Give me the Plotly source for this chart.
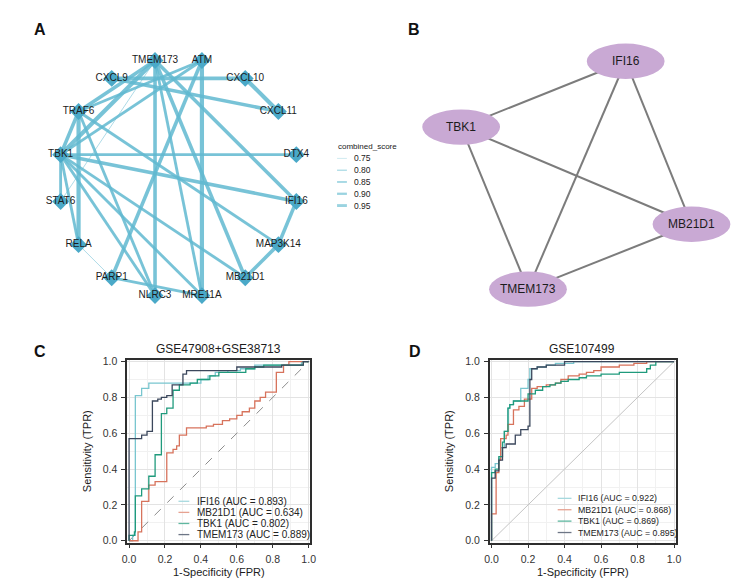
import math
import plotly.graph_objects as go

# the page body adds an 8px margin, so the figure is drawn 8px smaller and offset
OFF = 8
W, H = 748 - 2 * OFF, 586 - 2 * OFF
FONT = "Liberation Sans, Arial, sans-serif"


def fx(p):
    return (p - OFF) / W


def fy(p):
    return 1 - (p - OFF) / H


# ---------------- data: panel A (PPI network, circular layout) ----------------
nodes_A = ["ATM", "CXCL10", "CXCL11", "DTX4", "IFI16", "MAP3K14", "MB21D1", "MRE11A",
           "NLRC3", "PARP1", "RELA", "STAT6", "TBK1", "TRAF6", "CXCL9", "TMEM173"]
edge_src = ["TMEM173", "TMEM173", "TMEM173", "TMEM173", "TMEM173", "TMEM173", "TMEM173",
            "ATM", "ATM", "ATM", "ATM", "CXCL9", "CXCL9", "CXCL10",
            "TBK1", "TBK1", "TBK1", "TBK1", "TBK1", "TBK1", "TBK1", "TBK1",
            "TRAF6", "TRAF6", "TRAF6", "RELA", "PARP1", "IFI16", "MAP3K14"]
edge_dst = ["TBK1", "TRAF6", "STAT6", "NLRC3", "MRE11A", "MB21D1", "IFI16",
            "TRAF6", "MRE11A", "PARP1", "TBK1", "CXCL10", "CXCL11", "CXCL11",
            "DTX4", "IFI16", "MB21D1", "MRE11A", "NLRC3", "STAT6", "RELA", "TRAF6",
            "RELA", "MAP3K14", "NLRC3", "PARP1", "MRE11A", "MAP3K14", "MB21D1"]
edge_score = [0.99, 0.95, 0.75, 0.95, 0.90, 0.95, 0.95,
              0.90, 0.99, 0.95, 0.90, 0.95, 0.95, 0.99,
              0.90, 0.95, 0.90, 0.90, 0.90, 0.90, 0.90, 0.95,
              0.99, 0.90, 0.90, 0.75, 0.90, 0.95, 0.95]
score_levels = [0.75, 0.80, 0.85, 0.90, 0.95]

# ---------------- data: panel B (hub genes network) ----------------
nodes_B = ["IFI16", "TBK1", "MB21D1", "TMEM173"]
nodes_B_x = [0.661, 0.181, 0.853, 0.376]
nodes_B_y = [0.872, 0.641, 0.300, 0.072]
edges_B_src = ["IFI16", "IFI16", "IFI16", "TBK1", "TBK1", "MB21D1"]
edges_B_dst = ["TBK1", "MB21D1", "TMEM173", "MB21D1", "TMEM173", "TMEM173"]

# ---------------- data: ROC curves ----------------
roc_genes = ["IFI16", "MB21D1", "TBK1", "TMEM173"]
auc_C = [0.893, 0.634, 0.802, 0.889]
auc_D = [0.922, 0.868, 0.869, 0.895]

fpr_C_IFI16 = [0, 0.00, 0.02, 0.035, 0.07, 0.11, 0.40, 0.44, 0.48, 0.55, 0.62, 0.70, 0.96, 1.0]
tpr_C_IFI16 = [0, 0.00, 0.03, 0.81, 0.85, 0.88, 0.90, 0.92, 0.94, 0.95, 0.96, 0.98, 1.00, 1.0]
fpr_C_MB21D1 = [0, 0.05, 0.07, 0.11, 0.145, 0.21, 0.245, 0.265, 0.28, 0.32, 0.43, 0.47, 0.52,
                0.56, 0.60, 0.63, 0.67, 0.70, 0.73, 0.76, 0.82, 0.86, 0.89, 1.0]
tpr_C_MB21D1 = [0, 0.05, 0.22, 0.31, 0.33, 0.49, 0.51, 0.53, 0.59, 0.63, 0.64, 0.65, 0.67,
                0.68, 0.70, 0.72, 0.74, 0.78, 0.80, 0.83, 0.94, 0.98, 1.00, 1.0]
fpr_C_TBK1 = [0, 0.0, 0.03, 0.035, 0.07, 0.11, 0.145, 0.18, 0.21, 0.245, 0.28, 0.34, 0.38,
              0.45, 0.50, 0.65, 0.70, 0.75, 0.97, 1.0]
tpr_C_TBK1 = [0, 0.03, 0.05, 0.25, 0.29, 0.36, 0.48, 0.71, 0.74, 0.84, 0.87, 0.88, 0.90,
              0.92, 0.94, 0.96, 0.97, 0.98, 1.00, 1.0]
fpr_C_TMEM173 = [0, 0.0, 0.07, 0.10, 0.13, 0.16, 0.18, 0.21, 0.24, 0.30, 0.32, 0.60, 0.85, 0.97, 1.0]
tpr_C_TMEM173 = [0, 0.57, 0.59, 0.61, 0.78, 0.79, 0.80, 0.81, 0.87, 0.93, 0.95, 0.97, 0.98, 1.00, 1.0]

fpr_D_IFI16 = [0, 0.0, 0.02, 0.04, 0.05, 0.07, 0.09, 0.10, 0.12, 0.16, 0.20, 0.21, 0.25, 0.30, 0.35, 0.45, 1.0]
tpr_D_IFI16 = [0, 0.41, 0.43, 0.46, 0.52, 0.61, 0.74, 0.76, 0.78, 0.85, 0.90, 0.96, 0.97, 0.98, 0.99, 1.00, 1.0]
fpr_D_MB21D1 = [0, 0.0, 0.025, 0.04, 0.05, 0.08, 0.09, 0.12, 0.15, 0.18, 0.22, 0.25, 0.30, 0.35,
                0.38, 0.42, 0.48, 0.52, 0.56, 0.60, 0.70, 0.78, 0.85, 1.0]
tpr_D_MB21D1 = [0, 0.15, 0.38, 0.45, 0.57, 0.59, 0.65, 0.73, 0.75, 0.79, 0.85, 0.86, 0.87, 0.88,
                0.90, 0.92, 0.93, 0.94, 0.95, 0.97, 0.98, 0.99, 1.00, 1.0]
fpr_D_TBK1 = [0, 0.0, 0.02, 0.04, 0.06, 0.07, 0.09, 0.10, 0.12, 0.20, 0.24, 0.28, 0.32, 0.35,
              0.38, 0.42, 0.48, 0.52, 0.60, 0.70, 0.85, 0.87, 0.90, 1.0]
tpr_D_TBK1 = [0, 0.38, 0.40, 0.47, 0.55, 0.61, 0.74, 0.76, 0.78, 0.82, 0.84, 0.86, 0.87, 0.88,
              0.89, 0.90, 0.91, 0.92, 0.93, 0.94, 0.96, 0.98, 1.00, 1.0]
fpr_D_TMEM173 = [0, 0.0, 0.02, 0.04, 0.06, 0.08, 0.13, 0.16, 0.20, 0.21, 0.22, 0.25, 0.30, 0.40, 1.0]
tpr_D_TMEM173 = [0, 0.35, 0.39, 0.45, 0.52, 0.54, 0.59, 0.62, 0.64, 0.90, 0.96, 0.97, 0.98, 1.00, 1.0]

roc_C = {"IFI16": (fpr_C_IFI16, tpr_C_IFI16), "MB21D1": (fpr_C_MB21D1, tpr_C_MB21D1),
         "TBK1": (fpr_C_TBK1, tpr_C_TBK1), "TMEM173": (fpr_C_TMEM173, tpr_C_TMEM173)}
roc_D = {"IFI16": (fpr_D_IFI16, tpr_D_IFI16), "MB21D1": (fpr_D_MB21D1, tpr_D_MB21D1),
         "TBK1": (fpr_D_TBK1, tpr_D_TBK1), "TMEM173": (fpr_D_TMEM173, tpr_D_TMEM173)}

# ---------------- styles ----------------
roc_colors = {"IFI16": "#79c6cf", "MB21D1": "#d7735c", "TBK1": "#1f9a7c", "TMEM173": "#3b475c"}
legend_colors = {"IFI16": "#a6d9de", "MB21D1": "#e6a291", "TBK1": "#5fb7a0", "TMEM173": "#6d7686"}
EDGE_A = "rgba(96,184,208,0.85)"
NODE_A = "#4aa9c8"
NODE_B = "#c9a9d4"
EDGE_B = "#7c7c7c"


def edge_width(s):
    return 0.6 + (s - 0.75) / 0.20 * 3.0


fig = go.Figure()

# ---------------- panel A ----------------
n = len(nodes_A)
pos_A = {}
for i, name in enumerate(nodes_A):
    ang = math.radians(78.75 - i * 360.0 / n)
    pos_A[name] = (math.cos(ang), math.sin(ang))

for s in sorted(set(edge_score)):
    xs, ys = [], []
    for a, b, sc in zip(edge_src, edge_dst, edge_score):
        if sc == s:
            xs += [pos_A[a][0], pos_A[b][0], None]
            ys += [pos_A[a][1], pos_A[b][1], None]
    fig.add_trace(go.Scatter(x=xs, y=ys, mode="lines", xaxis="x", yaxis="y",
                             line=dict(color=EDGE_A, width=edge_width(s)),
                             hoverinfo="skip", showlegend=False))

fig.add_trace(go.Scatter(
    x=[pos_A[k][0] for k in nodes_A], y=[pos_A[k][1] for k in nodes_A],
    mode="markers+text", text=nodes_A, textposition="middle center",
    textfont=dict(family=FONT, size=10, color="#1c1c1c"),
    marker=dict(symbol="diamond", size=13, color=NODE_A, line=dict(width=0)),
    xaxis="x", yaxis="y", showlegend=False, hoverinfo="text"))

# ---------------- panel B ----------------
posB = {k: (x, y) for k, x, y in zip(nodes_B, nodes_B_x, nodes_B_y)}
xs, ys = [], []
for a, b in zip(edges_B_src, edges_B_dst):
    xs += [posB[a][0], posB[b][0], None]
    ys += [posB[a][1], posB[b][1], None]
fig.add_trace(go.Scatter(x=xs, y=ys, mode="lines", xaxis="x2", yaxis="y2",
                         line=dict(color=EDGE_B, width=2), hoverinfo="skip", showlegend=False))

shapes = []
annotations = []
ell_rx, ell_ry = 39.5 / 348, 18.0 / 290
for k in nodes_B:
    x, y = posB[k]
    shapes.append(dict(type="circle", xref="x2", yref="y2", x0=x - ell_rx, x1=x + ell_rx,
                       y0=y - ell_ry, y1=y + ell_ry, fillcolor=NODE_B,
                       line=dict(width=0), layer="above"))
    annotations.append(dict(x=x, y=y, xref="x2", yref="y2", text=k, showarrow=False,
                            font=dict(family=FONT, size=12, color="#1c1c1c")))

# ---------------- panels C & D ----------------
for roc, ax in ((roc_C, "3"), (roc_D, "4")):
    if ax == "3":
        fig.add_trace(go.Scatter(x=[0, 1], y=[0, 1], mode="lines", xaxis="x3", yaxis="y3",
                                 line=dict(color="#8c8c8c", width=1, dash="dash"),
                                 hoverinfo="skip", showlegend=False))
    else:
        fig.add_trace(go.Scatter(x=[0, 1], y=[0, 1], mode="lines", xaxis="x4", yaxis="y4",
                                 line=dict(color="#c4c4c4", width=1),
                                 hoverinfo="skip", showlegend=False))
    for g in roc_genes:
        fpr, tpr = roc[g]
        fig.add_trace(go.Scatter(x=fpr, y=tpr, mode="lines", xaxis="x" + ax, yaxis="y" + ax,
                                 line=dict(color=roc_colors[g], width=1.3, shape="hv"),
                                 name=g, showlegend=False))

# manual legends for ROC panels
legend_specs = [
    (auc_C, 176, 187, 193, 505, 11.3, 10),
    (auc_D, 561, 575, 580, 502, 11.6, 8.8),
]
for aucs, lx0, lx1, tx, y0, dy, fs in legend_specs:
    for i, (g, a) in enumerate(zip(roc_genes, aucs)):
        yy = y0 + i * dy
        shapes.append(dict(type="line", xref="paper", yref="paper", x0=fx(lx0), x1=fx(lx1),
                           y0=fy(yy), y1=fy(yy), line=dict(color=legend_colors[g], width=1.3)))
        annotations.append(dict(x=fx(tx), y=fy(yy), xref="paper", yref="paper",
                                text=f"{g} (AUC = {a:.3f})", showarrow=False,
                                xanchor="left", yanchor="middle",
                                font=dict(family=FONT, size=fs, color="#222222")))

# manual legend for panel A edge widths
annotations.append(dict(x=fx(336), y=fy(144), xref="paper", yref="paper", text="combined_score",
                        showarrow=False, xanchor="left", yanchor="middle",
                        font=dict(family=FONT, size=8, color="#222222")))
for i, s in enumerate(score_levels):
    yy = 156 + i * 12
    shapes.append(dict(type="line", xref="paper", yref="paper", x0=fx(337), x1=fx(347),
                       y0=fy(yy), y1=fy(yy),
                       line=dict(color="rgba(120,196,214,0.75)", width=edge_width(s) * 0.8)))
    annotations.append(dict(x=fx(352), y=fy(yy), xref="paper", yref="paper", text=f"{s:.2f}",
                            showarrow=False, xanchor="left", yanchor="middle",
                            font=dict(family=FONT, size=8.5, color="#222222")))

# titles and panel letters
for txt, cx in (("GSE47908+GSE38713", 217), ("GSE107499", 586)):
    annotations.append(dict(x=fx(cx), y=fy(350), xref="paper", yref="paper", text=txt,
                            showarrow=False, xanchor="center", yanchor="middle",
                            font=dict(family=FONT, size=12, color="#1c1c1c")))
for txt, cx, cy in (("A", 35, 25), ("B", 415, 25), ("C", 35, 353), ("D", 416, 353)):
    annotations.append(dict(x=fx(cx), y=fy(cy), xref="paper", yref="paper",
                            text=f"<b>{txt}</b>", showarrow=False,
                            xanchor="center", yanchor="middle",
                            font=dict(family=FONT, size=16, color="#111111")))

R = 150 / 122
hidden = dict(visible=False, showgrid=False, zeroline=False, fixedrange=True)


def roc_axis(domain, title, standoff):
    return dict(domain=domain, range=[-0.01, 1.01], dtick=0.2, tickformat=".1f",
                showgrid=True, gridcolor="#e3e3e3", gridwidth=0.8,
                minor=dict(dtick=0.1, showgrid=True, gridcolor="#f1f1f1", gridwidth=0.6),
                zeroline=False, showline=True, mirror=True, linecolor="#2e2e2e", linewidth=1.6,
                ticks="outside", ticklen=4, tickcolor="#333333", tickwidth=1,
                ticklabelstandoff=2,
                tickfont=dict(family=FONT, size=10.5, color="#333333"),
                title=dict(text=title, font=dict(family=FONT, size=11, color="#1c1c1c"),
                           standoff=standoff))


fig.update_layout(
    width=W, height=H, margin=dict(l=0, r=0, t=0, b=0),
    paper_bgcolor="white", plot_bgcolor="white", showlegend=False,
    font=dict(family=FONT),
    xaxis=dict(domain=[fx(26), fx(326)], range=[-R, R], **hidden),
    yaxis=dict(domain=[fy(326), fy(26)], range=[-R, R], **hidden),
    xaxis2=dict(domain=[fx(400), fx(740)], range=[0, 340 / 348], **hidden),
    yaxis2=dict(domain=[fy(310), fy(20)], range=[0, 1], **hidden),
    xaxis3=dict(anchor="y3", **roc_axis([fx(124), fx(310)], "1-Specificity (FPR)", 5)),
    yaxis3=dict(anchor="x3", **roc_axis([fy(547), fy(361)], "Sensitivity (TPR)", 9)),
    xaxis4=dict(anchor="y4", **roc_axis([fx(492), fx(681)], "1-Specificity (FPR)", 5)),
    yaxis4=dict(anchor="x4", **roc_axis([fy(547), fy(361)], "Sensitivity (TPR)", 9)),
    shapes=shapes, annotations=annotations,
)

fig.write_html("out.html")
